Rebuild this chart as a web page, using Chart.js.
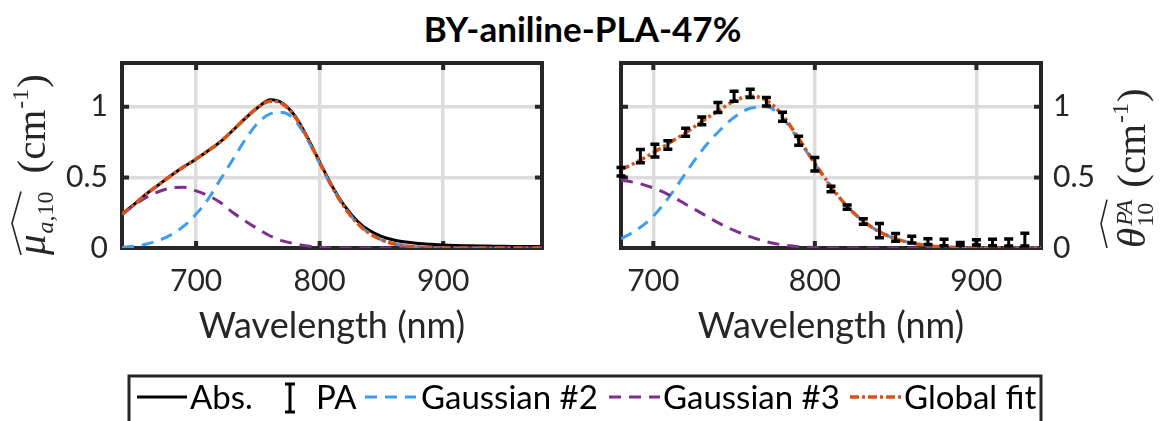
<!DOCTYPE html>
<html>
<head>
<meta charset="utf-8">
<script src="https://cdn.jsdelivr.net/npm/chart.js@4.4.1/dist/chart.umd.min.js"></script>
<style>
  html, body { margin: 0; padding: 0; background: #fff; }
  body { width: 1165px; height: 421px; position: relative; overflow: hidden; font-family: Lato, sans-serif; }
  #title { position: absolute; left: 0; top: 8px; width: 1165px; text-align: center;
           font: bold 35px/40px Lato, sans-serif; color: #000; }
  #absChart { position: absolute; left: 0; top: 0; }
  #paChart { position: absolute; left: 580px; top: 0; }
  #legend { position: absolute; left: 0; top: 0; }
</style>
</head>
<body>
<div id="title">BY-aniline-PLA-47%</div>
<canvas id="absChart" width="580" height="360"></canvas>
<canvas id="paChart" width="585" height="360"></canvas>
<svg id="legend" width="1165" height="421" font-family="Lato, sans-serif" font-size="33" fill="#000">
  <rect x="129" y="376" width="912" height="70" fill="none" stroke="#262626" stroke-width="3"/>
  <line x1="137" y1="397" x2="187" y2="397" stroke="#000" stroke-width="3"/>
  <text x="190" y="409">Abs.</text>
  <g stroke="#000" stroke-width="3">
    <line x1="290" y1="384" x2="290" y2="412"/>
    <line x1="285" y1="384" x2="295" y2="384"/>
    <line x1="285" y1="412" x2="295" y2="412"/>
  </g>
  <text x="316" y="409">PA</text>
  <line x1="365" y1="397" x2="416" y2="397" stroke="#3d9df2" stroke-width="3" stroke-dasharray="12 8"/>
  <text x="421" y="409">Gaussian #2</text>
  <line x1="609" y1="397" x2="660" y2="397" stroke="#7e2f8e" stroke-width="3" stroke-dasharray="12 8"/>
  <text x="663" y="409">Gaussian #3</text>
  <line x1="850" y1="397" x2="901" y2="397" stroke="#d95319" stroke-width="3.5" stroke-dasharray="9 3 3 3"/>
  <text x="904" y="409">Global fit</text>
</svg>
<script>
// absorbance panel (left)
const absWl = [640, 650, 660, 670, 680, 690, 700, 710, 720, 730, 740, 750, 760, 770, 780, 790, 800, 810,
               820, 830, 840, 850, 860, 870, 880, 890, 900, 910, 920, 930, 940, 950, 960, 970, 980];
const absVals = [0.24, 0.31, 0.385, 0.45, 0.515, 0.575, 0.63, 0.69, 0.755, 0.835, 0.92, 0.995, 1.05, 1.025,
                 0.935, 0.785, 0.61, 0.44, 0.30, 0.195, 0.125, 0.083, 0.057, 0.042, 0.032, 0.026, 0.021,
                 0.018, 0.016, 0.014, 0.013, 0.012, 0.011, 0.010, 0.010];
const absG2 = [0.004, 0.012, 0.028, 0.055, 0.095, 0.155, 0.24, 0.35, 0.49, 0.63, 0.77, 0.885, 0.95, 0.96,
               0.905, 0.77, 0.60, 0.432, 0.289, 0.18, 0.105, 0.058, 0.03, 0.015, 0.007, 0.003, 0.001,
               0, 0, 0, 0, 0, 0, 0, 0];
const absG3 = [0.235, 0.305, 0.36, 0.40, 0.425, 0.43, 0.405, 0.37, 0.32, 0.25, 0.19, 0.135, 0.085, 0.05,
               0.03, 0.014, 0.005, 0.001, 0, 0, 0, 0, 0, 0, 0, 0, 0, 0, 0, 0, 0, 0, 0, 0, 0];
const absFit = [0.24, 0.31, 0.385, 0.45, 0.515, 0.575, 0.63, 0.69, 0.755, 0.835, 0.92, 0.995, 1.04, 1.02,
                0.93, 0.78, 0.605, 0.435, 0.29, 0.18, 0.105, 0.058, 0.03, 0.015, 0.007, 0.003, 0.001,
                0, 0, 0, 0, 0, 0, 0, 0];

// photoacoustic panel (right)
const paWl = [680, 692, 701, 709, 720, 730, 740, 750, 760, 770, 780, 790, 800, 810, 820, 830, 840, 850,
              860, 870, 880, 890, 900, 910, 920, 930];
const paVals = [0.54, 0.65, 0.69, 0.73, 0.82, 0.90, 0.995, 1.075, 1.095, 1.035, 0.93, 0.76, 0.593, 0.418,
                0.29, 0.188, 0.123, 0.075, 0.06, 0.045, 0.039, 0.029, 0.04, 0.039, 0.039, 0.06];
const paErr = [0.03, 0.047, 0.045, 0.03, 0.028, 0.027, 0.035, 0.035, 0.03, 0.03, 0.032, 0.032, 0.047, 0.02,
               0.015, 0.02, 0.05, 0.027, 0.024, 0.02, 0.023, 0.01, 0.018, 0.023, 0.025, 0.045];
const fitWl = [680, 690, 700, 710, 720, 730, 740, 750, 760, 770, 780, 790, 800, 810, 820, 830, 840, 850,
               860, 870, 880, 890, 900, 910, 920, 930, 940];
const paG2 = [0.065, 0.13, 0.225, 0.365, 0.53, 0.69, 0.82, 0.925, 0.99, 1.0, 0.92, 0.765, 0.595, 0.433,
              0.294, 0.19, 0.115, 0.065, 0.035, 0.016, 0.007, 0.003, 0.001, 0, 0, 0, 0];
const paG3 = [0.48, 0.46, 0.425, 0.375, 0.31, 0.245, 0.18, 0.125, 0.08, 0.045, 0.022, 0.009, 0.003, 0.001,
              0, 0, 0, 0, 0, 0, 0, 0, 0, 0, 0, 0, 0];
const paFit = [0.555, 0.61, 0.675, 0.745, 0.815, 0.895, 0.97, 1.04, 1.075, 1.045, 0.94, 0.775, 0.60, 0.435,
               0.295, 0.19, 0.115, 0.065, 0.035, 0.016, 0.007, 0.003, 0.001, 0, 0, 0, 0];

const xTicks = [700, 800, 900];
const yTicks = [0, 0.5, 1];

const INK = '#262626';
const BLUE = '#3d9df2', PURPLE = '#7e2f8e', ORANGE = '#d95319';
const DASH = [12, 8], DASHDOT = [9, 3, 3, 3];
const SERIF = '"Liberation Serif", "DejaVu Serif", serif';

function pts(xs, ys) { return xs.map((x, i) => ({ x: x, y: ys[i] })); }

function curve(label, xs, ys, color, dash, width) {
  return {
    label: label, data: pts(xs, ys), borderColor: color, borderWidth: width || 3, borderDash: dash || [],
    pointRadius: 0, cubicInterpolationMode: 'monotone', fill: false
  };
}

function scales(xMin, xMax, yPos, yWidth) {
  return {
    x: {
      type: 'linear', min: xMin, max: xMax,
      afterBuildTicks: s => { s.ticks = xTicks.map(v => ({ value: v })); },
      afterFit: s => { s.height = 112; },
      grid: { color: '#dcdcdc', lineWidth: 3.5, drawTicks: false },
      border: { display: false },
      ticks: { font: { family: 'Lato', size: 30 }, color: INK, padding: 15, maxRotation: 0, callback: v => String(v) },
      title: { display: true, text: 'Wavelength (nm)', color: INK,
               font: { family: 'Lato', size: 36 }, padding: { top: 0, bottom: 12 } }
    },
    y: {
      type: 'linear', position: yPos, min: 0, max: 1.31,
      afterBuildTicks: s => { s.ticks = yTicks.map(v => ({ value: v })); },
      afterFit: s => { s.width = yWidth; },
      grid: { color: '#dcdcdc', lineWidth: 3.5, drawTicks: false },
      border: { display: false },
      ticks: { font: { family: 'Lato', size: 30 }, color: INK, padding: yPos === 'left' ? 14 : 12, callback: v => String(v) }
    }
  };
}

// axes box with inward ticks on all four sides, under the curves
const frame = {
  id: 'frame',
  beforeDatasetsDraw(chart) {
    const { ctx, chartArea: a, scales: { x, y } } = chart;
    ctx.save();
    ctx.strokeStyle = INK;
    ctx.lineWidth = 4;
    ctx.beginPath();
    xTicks.forEach(v => {
      const px = x.getPixelForValue(v);
      ctx.moveTo(px, a.top); ctx.lineTo(px, a.top + 7);
      ctx.moveTo(px, a.bottom); ctx.lineTo(px, a.bottom - 7);
    });
    yTicks.forEach(v => {
      const py = y.getPixelForValue(v);
      ctx.moveTo(a.left, py); ctx.lineTo(a.left + 7, py);
      ctx.moveTo(a.right, py); ctx.lineTo(a.right - 7, py);
    });
    ctx.stroke();
    ctx.strokeRect(a.left, a.top, a.right - a.left, a.bottom - a.top);
    ctx.restore();
  }
};

// vertical error bars for datasets that carry an `errors` array
const errorBars = {
  id: 'errorBars',
  afterDatasetsDraw(chart) {
    const { ctx, scales: { x, y } } = chart;
    ctx.save();
    ctx.strokeStyle = '#000';
    chart.data.datasets.forEach(ds => {
      if (!ds.errors) return;
      ds.data.forEach((p, i) => {
        const px = x.getPixelForValue(p.x);
        const lo = y.getPixelForValue(p.y - ds.errors[i]);
        const hi = y.getPixelForValue(p.y + ds.errors[i]);
        ctx.lineWidth = 3;
        ctx.beginPath();
        ctx.moveTo(px, lo); ctx.lineTo(px, hi);
        ctx.stroke();
        ctx.lineWidth = 3.5;
        ctx.beginPath();
        ctx.moveTo(px - 4.5, lo); ctx.lineTo(px + 4.5, lo);
        ctx.moveTo(px - 4.5, hi); ctx.lineTo(px + 4.5, hi);
        ctx.stroke();
      });
    });
    ctx.restore();
  }
};

// small helper for the math-style axis labels, written along a rotated baseline
function run(ctx, text, font, x, dy) {
  ctx.font = font;
  ctx.fillText(text, x, dy);
  return x + ctx.measureText(text).width;
}

function hat(ctx, x0, x1, yb, ya) {
  ctx.beginPath();
  ctx.moveTo(x0, yb);
  ctx.lineTo((x0 + x1) / 2, ya);
  ctx.lineTo(x1, yb);
  ctx.lineWidth = 1.6;
  ctx.strokeStyle = INK;
  ctx.stroke();
}

function unitTail(ctx, x) {
  x = run(ctx, '(cm', '41px ' + SERIF, x, 0);
  x = run(ctx, '-1', '24px ' + SERIF, x + 1, -17);
  run(ctx, ')', '41px ' + SERIF, x + 1, 0);
}

const muLabel = {
  id: 'muLabel',
  afterDraw(chart) {
    const ctx = chart.ctx;
    ctx.save();
    ctx.translate(45, 255);
    ctx.rotate(-Math.PI / 2);
    ctx.fillStyle = INK;
    ctx.textBaseline = 'alphabetic';
    let x = run(ctx, 'μ', 'italic 41px ' + SERIF, 0, 0);
    x = run(ctx, 'a', 'italic 24px ' + SERIF, x + 1, 8);
    x = run(ctx, ',10', '24px ' + SERIF, x, 8);
    hat(ctx, 0, x, -24, -33);
    unitTail(ctx, x + 18);
    ctx.restore();
  }
};

const thetaLabel = {
  id: 'thetaLabel',
  afterDraw(chart) {
    const ctx = chart.ctx;
    ctx.save();
    ctx.translate(565, 248);
    ctx.rotate(-Math.PI / 2);
    ctx.fillStyle = INK;
    ctx.textBaseline = 'alphabetic';
    const x = run(ctx, 'θ', 'italic 41px ' + SERIF, 0, 0);
    const xs = run(ctx, 'PA', 'italic 24px ' + SERIF, x + 2, -13);
    const xb = run(ctx, '10', '24px ' + SERIF, x + 1, 8);
    const end = Math.max(xs, xb);
    hat(ctx, 0, end, -38, -44);
    unitTail(ctx, end + 12);
    ctx.restore();
  }
};

function build() {
  new Chart(document.getElementById('absChart'), {
    type: 'line',
    data: {
      datasets: [
        curve('Global fit', absWl, absFit, ORANGE, DASHDOT, 3.5),
        curve('Gaussian #3', absWl, absG3, PURPLE, DASH),
        curve('Gaussian #2', absWl, absG2, BLUE, DASH),
        curve('Abs.', absWl, absVals, '#000')
      ]
    },
    options: {
      responsive: false, animation: false,
      layout: { padding: { left: 0, top: 63, right: 38, bottom: 0 } },
      plugins: { legend: { display: false }, tooltip: { enabled: false } },
      scales: scales(640, 980, 'left', 122)
    },
    plugins: [frame, muLabel]
  });

  new Chart(document.getElementById('paChart'), {
    type: 'line',
    data: {
      datasets: [
        curve('Global fit', fitWl, paFit, ORANGE, DASHDOT, 3.5),
        curve('Gaussian #3', fitWl, paG3, PURPLE, DASH),
        curve('Gaussian #2', fitWl, paG2, BLUE, DASH),
        { label: 'PA', data: pts(paWl, paVals), errors: paErr, showLine: false, pointRadius: 0 }
      ]
    },
    options: {
      responsive: false, animation: false,
      layout: { padding: { left: 41, top: 63, right: 0, bottom: 0 } },
      plugins: { legend: { display: false }, tooltip: { enabled: false } },
      scales: scales(680, 940, 'right', 124)
    },
    plugins: [frame, errorBars, thetaLabel]
  });
}

Promise.all([
  document.fonts.load('30px Lato'),
  document.fonts.load('bold 30px Lato'),
  document.fonts.load('41px "Liberation Serif"'),
  document.fonts.load('italic 41px "Liberation Serif"')
]).then(build, build);
</script>
</body>
</html>
